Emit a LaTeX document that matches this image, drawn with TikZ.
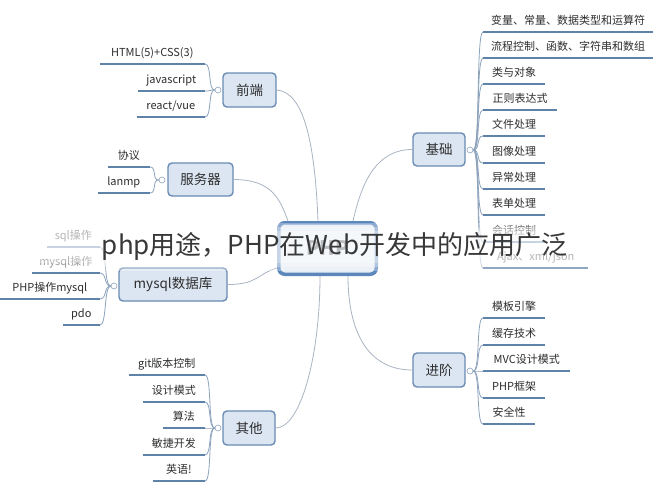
\documentclass[tikz,border=0pt]{standalone}
\usepackage{fontspec}
\setmainfont{Noto Sans CJK SC}
\usetikzlibrary{calc}
\definecolor{boxfill}{HTML}{DCE6F2}
\definecolor{boxdraw}{HTML}{6A8BB3}
\definecolor{txt}{HTML}{2E2E2E}
\definecolor{ulc}{HTML}{5F82A8}
\definecolor{conc}{HTML}{A9B5C3}
\definecolor{brc}{HTML}{8DA3BC}
\definecolor{cdraw}{HTML}{5C87BC}
\definecolor{cfill}{HTML}{E4ECF6}
\begin{document}
\begin{tikzpicture}[x=1pt,y=-1pt,
  branch/.style={draw=boxdraw, fill=boxfill, line width=1.4pt, rounded corners=4pt,
    font=\fontsize{13.5}{16}\selectfont, text=txt, inner sep=0pt},
  leaf/.style={inner xsep=0pt, inner ysep=5pt, font=\fontsize{11}{13}\selectfont,
    text=txt, text height=8pt, text depth=2pt},
  uline/.style={draw=ulc, line width=2.4pt},
  conn/.style={draw=conc, line width=0.8pt},
  brk/.style={draw=brc, line width=0.8pt},
  dot/.style={circle, draw=brc, fill=white, inner sep=0pt, minimum size=6pt, line width=0.6pt},
  hub/.style={draw=cdraw, fill=cfill, line width=3.5pt, rounded corners=6pt,
    minimum width=97.5pt, minimum height=51.5pt, inner sep=0pt,
    font=\bfseries\fontsize{20}{24}\selectfont, text=txt!80!boxdraw},
  titletext/.style={font=\fontsize{26}{30}\selectfont, text=black!78, inner sep=0pt}]
\useasboundingbox (0,0) rectangle (662,490);
\fill[white] (0,0) rectangle (662,490);

% central node
\node[hub] (c) at (327.5,248.5) {PHP};

% branch nodes
\node[branch, minimum width=53pt, minimum height=34pt] (fe) at (249.5,90) {前端};
\node[branch, minimum width=65pt, minimum height=33pt] (sv) at (200.5,179.5) {服务器};
\node[branch, minimum width=108pt, minimum height=33pt] (db) at (173,284.5) {mysql数据库};
\node[branch, minimum width=52pt, minimum height=34pt] (ot) at (249,428) {其他};
\node[branch, minimum width=52pt, minimum height=33pt] (jc) at (439,149.5) {基础};
\node[branch, minimum width=52pt, minimum height=34pt] (jj) at (439,370) {进阶};

% collapse dots
\node[dot] (dfe) at (218,90) {};
\node[dot] (dsv) at (162,180) {};
\node[dot] (ddb) at (114,286) {};
\node[dot] (dot) at (218,428) {};
\node[dot] (djc) at (470,150) {};
\node[dot] (djj) at (470,371) {};

% leaves: 前端
\node[leaf, minimum width=105pt, anchor=south east] (a1) at (205,64) {HTML(5)+CSS(3)};
\node[leaf, minimum width=67pt, anchor=south east] (a2) at (205,91) {javascript};
\node[leaf, minimum width=68pt, anchor=south east] (a3) at (205,117) {react/vue};
% 服务器
\node[leaf, minimum width=42pt, anchor=south east] (b1) at (150,167) {协议};
\node[leaf, minimum width=52pt, anchor=south east] (b2) at (150,193) {lanmp};
% mysql
\node[leaf, minimum width=53pt, anchor=south east] (m1) at (100,247) {sql操作};
\node[leaf, minimum width=68pt, anchor=south east] (m2) at (100,273) {mysql操作};
\node[leaf, minimum width=100pt, anchor=south east] (m3) at (100,299) {PHP操作mysql};
\node[leaf, minimum width=37pt, anchor=south east] (m4) at (100,325) {pdo};
% 其他
\node[leaf, minimum width=76pt, anchor=south east] (o1) at (205,375) {git版本控制};
\node[leaf, minimum width=62pt, anchor=south east] (o2) at (205,402) {设计模式};
\node[leaf, minimum width=42pt, anchor=south east] (o3) at (205,428) {算法};
\node[leaf, minimum width=62pt, anchor=south east] (o4) at (205,455) {敏捷开发};
\node[leaf, minimum width=52pt, anchor=south east] (o5) at (205,481) {英语!};
% 基础
\node[leaf, minimum width=170pt, anchor=south west] (j1) at (483,32) {变量、常量、数据类型和运算符};
\node[leaf, minimum width=170pt, anchor=south west] (j2) at (483,58) {流程控制、函数、字符串和数组};
\node[leaf, minimum width=62pt, anchor=south west] (j3) at (483,84) {类与对象};
\node[leaf, minimum width=74pt, anchor=south west] (j4) at (483,110) {正则表达式};
\node[leaf, minimum width=62pt, anchor=south west] (j5) at (483,136) {文件处理};
\node[leaf, minimum width=62pt, anchor=south west] (j6) at (483,163) {图像处理};
\node[leaf, minimum width=62pt, anchor=south west] (j7) at (483,189) {异常处理};
\node[leaf, minimum width=62pt, anchor=south west] (j8) at (483,215) {表单处理};
\node[leaf, minimum width=62pt, anchor=south west] (j9) at (483,242) {会话控制};
\node[leaf, minimum width=105pt, anchor=south west] (j10) at (483,268) {Ajax、xml/json};
% 进阶
\node[leaf, minimum width=62pt, anchor=south west] (k1) at (483,318) {模板引擎};
\node[leaf, minimum width=62pt, anchor=south west] (k2) at (483,345) {缓存技术};
\node[leaf, minimum width=87pt, anchor=south west] (k3) at (483,371) {MVC设计模式};
\node[leaf, minimum width=62pt, anchor=south west] (k4) at (483,398) {PHP框架};
\node[leaf, minimum width=52pt, anchor=south west] (k5) at (483,424) {安全性};

% underlines
\foreach \n in {a1,a2,a3,b1,b2,m1,m2,m3,m4,o1,o2,o3,o4,o5,j1,j2,j3,j4,j5,j6,j7,j8,j9,j10,k1,k2,k3,k4,k5}
  \draw[uline] (\n.south west) -- (\n.south east);

% brackets (left side)
\foreach \d/\list in {dfe/{a1,a2,a3}, dsv/{b1,b2}, ddb/{m1,m2,m3,m4}, dot/{o1,o2,o3,o4,o5}}
  \foreach \n in \list
    \draw[brk] (\d.west) .. controls +(-7,0) and +(7,0) .. (\n.south east);
% brackets (right side)
\foreach \d/\list in {djc/{j1,j2,j3,j4,j5,j6,j7,j8,j9,j10}, djj/{k1,k2,k3,k4,k5}}
  \foreach \n in \list
    \draw[brk] (\d.east) .. controls +(7,0) and +(-7,0) .. (\n.south west);

% main connectors
\draw[conn] (fe.east) .. controls +(28,2) and +(-3,-75) .. ($(c.north west)+(41,0)$);
\draw[conn] (sv.east) .. controls +(38,0) and +(-8,-22) .. ($(c.north west)+(11,0)$);
\draw[conn] (jc.west) .. controls +(-38,0) and +(8,-35) .. ($(c.north west)+(76,0)$);
\draw[conn] (db.east) .. controls +(30,0) and +(-20,6) .. ($(c.south west)+(0,-8)$);
\draw[conn] (ot.east) .. controls +(25,0) and +(0,80) .. ($(c.south west)+(43,0)$);
\draw[conn] (jj.west) .. controls +(-45,0) and +(0,55) .. ($(c.south west)+(71,0)$);

% fading band behind title
\fill[white, opacity=0.3] (0,223) rectangle (662,271);
\fill[white, opacity=0.3] (0,227) rectangle (662,267);
\fill[white, opacity=0.3] (0,231) rectangle (662,263);

% overlay title
\node[titletext] (t) at (334.5,246) {php用途，PHP在Web开发中的应用广泛};
\end{tikzpicture}
\end{document}
